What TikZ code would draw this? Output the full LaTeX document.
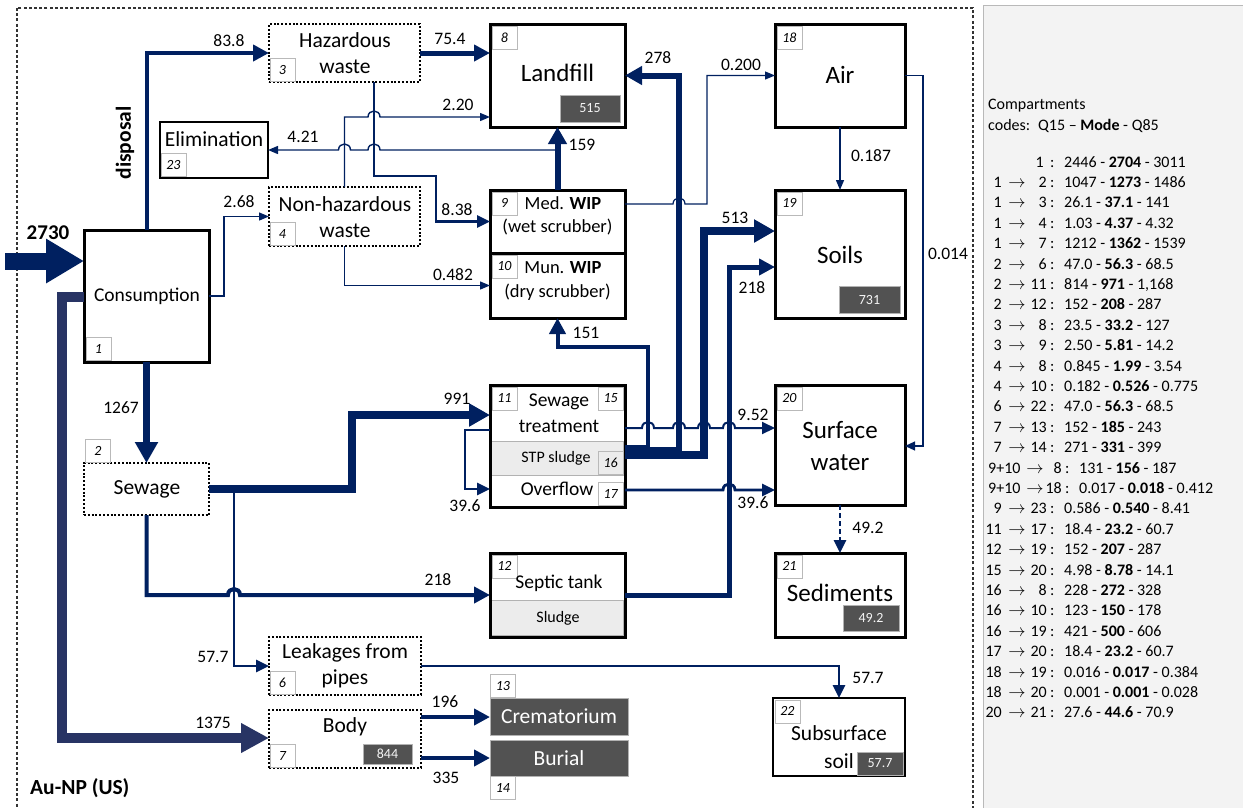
\documentclass[tikz,border=0pt]{standalone}
\usepackage{fontspec}
\setmainfont{Carlito}
\usetikzlibrary{arrows.meta}
\definecolor{nv}{RGB}{0,32,96}
\definecolor{nvb}{RGB}{40,52,100}
\definecolor{dk}{RGB}{82,82,82}
\definecolor{band}{RGB}{236,236,236}
\definecolor{pan}{RGB}{243,243,243}
\tikzset{
 bx/.style={draw=black, line width=3pt, fill=white, inner sep=0pt, outer sep=0pt},
 dbx/.style={draw=black, line width=1.4pt, dash pattern=on 2pt off 1.8pt, fill=white, inner sep=0pt, outer sep=0pt},
 tbx/.style={draw=black, line width=1.8pt, fill=white, inner sep=0pt, outer sep=0pt},
 lb/.style={draw=gray!55, line width=0.8pt, fill=white, minimum width=25pt, minimum height=23pt, inner sep=0pt, font=\fontsize{14}{14}\selectfont\itshape},
 dkb/.style={fill=dk, draw=gray!60, line width=0.6pt, text=gray!8, inner sep=0pt, font=\fontsize{14}{14}\selectfont},
 fl/.style={font=\fontsize{17.5}{20}\selectfont, inner sep=0pt},
 tx/.style={font=\fontsize{21.5}{26}\selectfont, align=center, inner sep=0pt},
 bigt/.style={font=\fontsize{25}{32}\selectfont, align=center, inner sep=0pt},
 mdt/.style={font=\fontsize{19.5}{24}\selectfont, align=center, inner sep=0pt},
 wip/.style={font=\fontsize{18.5}{22}\selectfont, align=center, inner sep=0pt},
 smt/.style={font=\fontsize{16}{18}\selectfont, inner sep=0pt},
 ptx/.style={font=\fontsize{16}{18}\selectfont, inner sep=0pt},
 fa/.style={draw=nv, line width=1.4pt, -{Triangle[length=10pt,width=8pt]}},
 fb/.style={draw=nv, line width=2.8pt, -{Triangle[length=13pt,width=12pt]}},
 fc/.style={draw=nv, line width=4pt, -{Triangle[length=16pt,width=16pt]}},
 fd/.style={draw=nv, line width=6pt, -{Triangle[length=17pt,width=18pt]}},
 fe/.style={draw=nv, line width=8pt, -{Triangle[length=21pt,width=22pt]}},
 hr/.style args={#1/#2}{insert path={-- ({#1-6},#2) .. controls ({#1-6},{#2-8}) and ({#1+6},{#2-8}) .. ({#1+6},#2)}},
 hl/.style args={#1/#2}{insert path={-- ({#1+6},#2) .. controls ({#1+6},{#2-8}) and ({#1-6},{#2-8}) .. ({#1-6},#2)}},
}
\newcommand{\prow}[6]{%
 \node[ptx, anchor=base east] (ps#1) at (1002,{167+20.4*#1}) {#2};
 \node[ptx, anchor=base] (pa#1) at (1017,{167+20.4*#1}) {$\rightarrow$};
 \node[ptx, anchor=base east] (pt#1) at (1047,{167+20.4*#1}) {#3};
 \node[ptx, anchor=base west] (pc#1) at (1050,{167+20.4*#1}) {:};
 \node[ptx, anchor=base west] (pv#1) at (1064,{167+20.4*#1}) {#4 - \textbf{#5} - #6};}
\newcommand{\prowb}[5]{%
 \node[ptx, anchor=base west] (ps#1) at (988,{167+20.4*#1}) {9+10};
 \node[ptx, anchor=base] (pa#1) at (1035,{167+20.4*#1}) {$\rightarrow$};
 \node[ptx, anchor=base east] (pt#1) at (1062,{167+20.4*#1}) {#2};
 \node[ptx, anchor=base west] (pc#1) at (1065,{167+20.4*#1}) {:};
 \node[ptx, anchor=base west] (pv#1) at (1079,{167+20.4*#1}) {#3 - \textbf{#4} - #5};}
\begin{document}
\begin{tikzpicture}[x=1pt,y=-1pt]
\useasboundingbox (0,0) rectangle (1243,807);
% right panel
\draw[gray!55, line width=0.8pt, fill=pan] (983,5) rectangle (1252,815);
% outer dotted frame
\draw[black!80, line width=1.6pt, dash pattern=on 3pt off 2.2pt] (17,8) rectangle (973,830);

% ---------- boxes
\node[bx, minimum width=125pt, minimum height=132pt] (cons) at (146.5,296) {};
\node[dbx, minimum width=151pt, minimum height=58pt] (haz) at (344.5,53) {};
\node[tbx, minimum width=108pt, minimum height=56pt] (elim) at (214,150) {};
\node[dbx, minimum width=151pt, minimum height=59pt] (nonhaz) at (344.5,216.5) {};
\node[bx, minimum width=135pt, minimum height=103pt] (land) at (557.5,75.5) {};
\node[bx, minimum width=130pt, minimum height=103pt] (air) at (840,75.5) {};
\node[bx, minimum width=135pt, minimum height=63pt] (medwip) at (557.5,221.5) {};
\node[bx, minimum width=135pt, minimum height=65pt] (munwip) at (557.5,285.5) {};
\node[bx, minimum width=130pt, minimum height=128pt] (soils) at (840,254) {};
\node[bx, minimum width=135pt, minimum height=122pt] (stt) at (557.5,446) {};
\node[bx, minimum width=130pt, minimum height=120pt] (surf) at (840,445) {};
\node[dbx, minimum width=125pt, minimum height=52pt] (sew) at (146.5,489) {};
\node[bx, minimum width=135pt, minimum height=84pt] (septic) at (557.5,595) {};
\node[bx, minimum width=130pt, minimum height=84pt] (sed) at (840,595) {};
\node[dbx, minimum width=152pt, minimum height=58pt] (leak) at (345,666) {};
\node[dbx, minimum width=152pt, minimum height=58pt] (body) at (345,739) {};
\node[fill=dk, draw=gray!60, line width=0.6pt, minimum width=138pt, minimum height=37pt, inner sep=0pt, outer sep=0pt] (crem) at (559,716.5) {};
\node[fill=dk, draw=gray!60, line width=0.6pt, minimum width=138pt, minimum height=36pt, inner sep=0pt, outer sep=0pt] (bur) at (559,758) {};
\node[tbx, minimum width=132pt, minimum height=78pt] (subs) at (839,737) {};

% bands
\draw[gray!60, line width=0.8pt, fill=band] (491.5,441) rectangle (623.5,475);
\draw[gray!60, line width=0.8pt, fill=band] (491.5,600) rectangle (623.5,635.5);
\draw[black, line width=3pt] (stt.north west) rectangle (stt.south east);
\draw[black, line width=3pt] (septic.north west) rectangle (septic.south east);

% ---------- small code labels
\node[lb, anchor=south west] (l1) at (85.5,360.5) {1};
\node[lb, anchor=south west] (l2) at (85,463) {2};
\node[lb, anchor=south west] (l3) at (269.5,82) {3};
\node[lb, anchor=south west] (l4) at (269.5,246) {4};
\node[lb, anchor=south west] (l23) at (160.5,177) {23};
\node[lb, anchor=north west] (l8) at (491.5,25.5) {8};
\node[lb, anchor=north west] (l18) at (776.5,25.5) {18};
\node[lb, anchor=north west] (l19) at (776.5,191.5) {19};
\node[lb, anchor=north west] (l9) at (491.5,191.5) {9};
\node[lb, anchor=north west] (l10) at (491.5,254.5) {10};
\node[lb, anchor=north west] (l11) at (491.5,386.5) {11};
\node[lb, anchor=north east] (l15) at (623.5,386.5) {15};
\node[lb, anchor=south east, fill=band] (l16) at (623.5,475) {16};
\node[lb, anchor=south east] (l17) at (623.5,505.5) {17};
\node[lb, anchor=north west] (l20) at (776.5,386.5) {20};
\node[lb, anchor=north west] (l12) at (491.5,554.5) {12};
\node[lb, anchor=north west] (l21) at (776.5,554.5) {21};
\node[lb, anchor=north west] (l22) at (774.5,699.5) {22};
\node[lb, anchor=south west] (l13) at (490,698) {13};
\node[lb, anchor=north west] (l14) at (490,776) {14};
\node[lb, anchor=south west] (l6) at (269.5,695) {6};
\node[lb, anchor=south west] (l7) at (269.5,768) {7};

% dark stock boxes
\node[dkb, minimum width=60pt, minimum height=27pt] (s515) at (590,108.5) {515};
\node[dkb, minimum width=61pt, minimum height=27pt] (s731) at (869.5,299.5) {731};
\node[dkb, minimum width=49pt, minimum height=20pt] (s844) at (387.5,754) {844};
\node[dkb, minimum width=56pt, minimum height=26pt] (s492) at (871,618) {49.2};
\node[dkb, minimum width=46pt, minimum height=23pt] (s577) at (880,763.5) {57.7};

% ---------- box texts
\node[font=\fontsize{19.5}{24}\selectfont, inner sep=0pt] (tcons) at (147,296) {Consumption};
\node[tx] (thaz) at (345,53) {Hazardous\\waste};
\node[tx] (telim) at (214,139) {Elimination};
\node[tx] (tnon) at (345,217) {Non-hazardous\\waste};
\node[bigt] (tland) at (557.5,73) {Landfill};
\node[bigt] (tair) at (840,75) {Air};
\node[wip] (tmed1) at (563,203) {Med. \textbf{WIP}};
\node[wip] (tmed2) at (557.5,227) {(wet scrubber)};
\node[wip] (tmun1) at (563,268) {Mun. \textbf{WIP}};
\node[wip] (tmun2) at (557.5,292) {(dry scrubber)};
\node[bigt] (tsoil) at (840,255) {Soils};
\node[mdt] (tstt1) at (559,402) {Sewage};
\node[mdt] (tstt2) at (559,426) {treatment};
\node[smt] (tstp) at (556,458) {STP sludge};
\node[mdt] (tovf) at (557,489) {Overflow};
\node[bigt] (tsurf) at (840,446) {Surface\\water};
\node[tx] (tsew) at (147,489) {Sewage};
\node[mdt] (tsep) at (559,583) {Septic tank};
\node[smt] (tslu) at (558,618) {Sludge};
\node[bigt] (tsed) at (840,593) {Sediments};
\node[tx] (tleak) at (345,666) {Leakages from\\pipes};
\node[tx] (tbody) at (345,727) {Body};
\node[tx, text=white] (tcrem) at (559,716) {Crematorium};
\node[tx, text=white] (tbur) at (559,758) {Burial};
\node[tx] (tsub1) at (839,733) {Subsurface};
\node[tx] (tsub2) at (839,761) {soil};
\node[font=\fontsize{21}{24}\selectfont\bfseries, inner sep=0pt] (t2730) at (48,233) {2730};
\node[font=\fontsize{21.5}{24}\selectfont\bfseries, inner sep=0pt, rotate=90] (tdisp) at (125,143) {disposal};
\node[font=\fontsize{21.5}{24}\selectfont\bfseries, inner sep=0pt, anchor=west] (tau) at (30,788) {Au-NP (US)};

% ---------- connectors
\coordinate (in) at (5,261);
\draw[draw=nv, line width=17pt, -{Triangle[length=38pt,width=42pt]}] (in) -- (cons.west |- in);
% 83.8
\draw[fc] (cons.north) |- (haz.west);
% 2.68
\draw[fa] (cons.east |- 0,296) -- (224,296) |- (nonhaz.west);
% 75.4
\draw[fc, line width=5pt] (haz.east) -- (land.west |- haz.east);
% 2.20
\draw[fa] (nonhaz.north) -- (344.5,117) [hr=374/117] -- (land.west |- 0,117);
% 4.21
\coordinate (j159) at (557.5,150);
\draw[fa] (j159) [hl=374/150] [hl=344.5/150] -- (elim.east);
% 8.38
\draw[fb] (haz.south -| 374,0) -- (374,176) -- (436,176) |- (medwip.west);
% 0.482
\draw[fa] (nonhaz.south) |- (munwip.west);
% 159
\draw[fd] (medwip.north) -- (land.south);
% 0.200
\draw[draw=nv, line width=1.2pt, -{Triangle[length=10pt,width=8pt]}] (medwip.east |- 0,204) [hr=679/204] -- (707,204) -- (707,75.5) -- (air.west);
% 151
\draw[fc] (stt.east |- 0,447) -- (648,447) -- (648,347) -- (557.5,347) -- (munwip.south);
% 278
\draw[fd] (stt.east |- 0,450) -- (679,450) -- (679,75.5) -- (land.east);
% 513
\draw[fe] (stt.east |- 0,455) -- (704,455) -- (704,231) -- (soils.west |- 0,231);
% 218 to soils
\draw[fc, line width=5pt] (septic.east) -- (729,595) -- (729,267) -- (soils.west |- 0,267);
% 9.52
\draw[fb, line width=2pt] (stt.east |- 0,428) [hr=648/428] [hr=679/428] [hr=704/428] [hr=729/428] -- (surf.west |- 0,428);
% 39.6 overflow
\draw[fb] (stt.east |- 0,490) [hr=729/490] -- (surf.west |- 0,490);
% 0.187
\draw[fa] (air.south) -- (soils.north);
% 0.014
\draw[draw=nv, line width=1.2pt, -{Triangle[length=10pt,width=9pt]}] (air.east) -- (923,75.5) |- (surf.east |- 0,446);
% 49.2
\draw[fb, dash pattern=on 5pt off 3pt] (surf.south) -- (sed.north);
% 1267
\draw[fe, line width=7pt] (cons.south) -- (sew.north);
% 991
\draw[fe] (sew.east) -- (352,489) -- (352,415) -- (stt.west |- 0,415);
% 39.6 loop
\draw[fb] (stt.west |- 0,430) -- (465,430) -- (465,489) -- (stt.west |- 0,489);
% to leakages
\coordinate (sb) at (234,489);
\draw[fb] (sb) -- (234,666) -- (leak.west);
% 218 to septic
\draw[fc] (sew.south) -- (146.5,595) [hr=234/595] -- (septic.west);
% 57.7
\draw[fb] (leak.east) -- (839,666) -- (subs.north);
% 1375
\draw[draw=nvb, line width=10pt, -{Triangle[length=28pt,width=28pt]}] (cons.west |- 0,297) -- (62,297) -- (62,738) -- (body.west |- 0,738);
% 196, 335
\draw[fc] (body.east |- 0,717) -- (crem.west |- 0,717);
\draw[fc] (body.east |- 0,758) -- (bur.west);

% ---------- flow labels
\node[fl] (n838) at (229,41) {83.8};
\node[fl] (n268) at (239,202) {2.68};
\node[fl] (n754) at (450,39) {75.4};
\node[fl] (n220) at (458,105) {2.20};
\node[fl] (n421) at (303,137) {4.21};
\node[fl] (n838b) at (457,210) {8.38};
\node[fl] (n482) at (453,275) {0.482};
\node[fl] (n159) at (582,145) {159};
\node[fl] (n278) at (658,58) {278};
\node[fl] (n200) at (741,65) {0.200};
\node[fl] (n187) at (871,156) {0.187};
\node[fl] (n014) at (948,254) {0.014};
\node[fl] (n513) at (735,218) {513};
\node[fl] (n218s) at (752,288) {218};
\node[fl] (n952) at (753,415) {9.52};
\node[fl] (n396o) at (753,503) {39.6};
\node[fl] (n151) at (586,333) {151};
\node[fl] (n991) at (457,399) {991};
\node[fl] (n396l) at (465,506) {39.6};
\node[fl] (n1267) at (121,408) {1267};
\node[fl] (n218p) at (438,580) {218};
\node[fl] (n577l) at (213,657) {57.7};
\node[fl] (n577s) at (868,678) {57.7};
\node[fl] (n1375) at (213,723) {1375};
\node[fl] (n196) at (445,702) {196};
\node[fl] (n335) at (446,778) {335};
\node[fl] (n492) at (868,528) {49.2};

% ---------- right panel text
\node[ptx, anchor=base west] (pcomp) at (988,109) {Compartments};
\node[ptx, anchor=base west] (pcodes) at (988,130) {codes:};
\node[ptx, anchor=base west] (pq) at (1038,130) {Q15 -- \textbf{Mode} - Q85};
\node[ptx, anchor=base east] (pt0) at (1044,167) {1};
\node[ptx, anchor=base west] (pc0) at (1050,167) {:};
\node[ptx, anchor=base west] (pv0) at (1064,167) {2446 - \textbf{2704} - 3011};
\prow{1}{1}{2}{1047}{1273}{1486}
\prow{2}{1}{3}{26.1}{37.1}{141}
\prow{3}{1}{4}{1.03}{4.37}{4.32}
\prow{4}{1}{7}{1212}{1362}{1539}
\prow{5}{2}{6}{47.0}{56.3}{68.5}
\prow{6}{2}{11}{814}{971}{1,168}
\prow{7}{2}{12}{152}{208}{287}
\prow{8}{3}{8}{23.5}{33.2}{127}
\prow{9}{3}{9}{2.50}{5.81}{14.2}
\prow{10}{4}{8}{0.845}{1.99}{3.54}
\prow{11}{4}{10}{0.182}{0.526}{0.775}
\prow{12}{6}{22}{47.0}{56.3}{68.5}
\prow{13}{7}{13}{152}{185}{243}
\prow{14}{7}{14}{271}{331}{399}
\prowb{15}{8}{131}{156}{187}
\prowb{16}{18}{0.017}{0.018}{0.412}
\prow{17}{9}{23}{0.586}{0.540}{8.41}
\prow{18}{11}{17}{18.4}{23.2}{60.7}
\prow{19}{12}{19}{152}{207}{287}
\prow{20}{15}{20}{4.98}{8.78}{14.1}
\prow{21}{16}{8}{228}{272}{328}
\prow{22}{16}{10}{123}{150}{178}
\prow{23}{16}{19}{421}{500}{606}
\prow{24}{17}{20}{18.4}{23.2}{60.7}
\prow{25}{18}{19}{0.016}{0.017}{0.384}
\prow{26}{18}{20}{0.001}{0.001}{0.028}
\prow{27}{20}{21}{27.6}{44.6}{70.9}
\end{tikzpicture}
\end{document}
